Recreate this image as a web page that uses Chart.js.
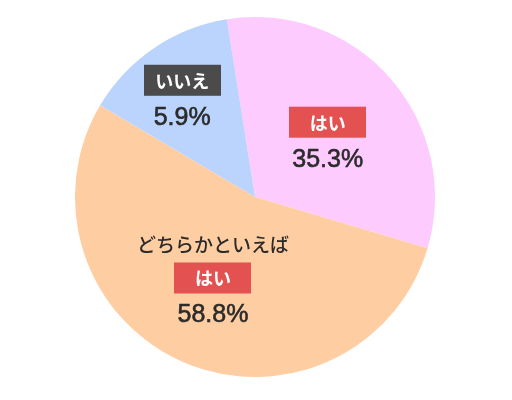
<!DOCTYPE html>
<html>
<head>
<meta charset="utf-8">
<script src="https://cdn.jsdelivr.net/npm/chart.js@4.4.0/dist/chart.umd.min.js"></script>
<style>
  body { margin: 0; background: #fff; }
  #wrap { width: 512px; height: 400px; }
</style>
</head>
<body>
<div id="wrap"><canvas id="answerPie"></canvas></div>
<script>
// slices in drawing order (clockwise from top): はい, どちらかといえば はい, いいえ
var categories = ['はい', 'どちらかといえば はい', 'いいえ'];
// slice sizes as drawn in the picture (share of the circle)
var sliceValues = [32.1, 53.9, 14.0];
// percent texts printed on the chart
var percentLabels = ['35.3%', '58.8%', '5.9%'];
var headLabels = ['', 'どちらかといえば', ''];
var badgeLabels = ['はい', 'はい', 'いいえ'];

var sliceColors = ['#fdcbfe', '#fecda1', '#bbd4fe'];
var badgeColors = ['#e35150', '#e35150', '#4b4b4b'];
// where each label group sits: fraction of radius along the slice middle, plus a nudge
var labelFrac = [0.5, 0.5, 0.68];
var labelNudge = [5, -6, -4];

var FONT = '"Noto Sans CJK JP", "Noto Sans", sans-serif';
var NUM_FONT = '"Liberation Sans", Arial, sans-serif';

var labelPlugin = {
    id: 'sliceLabels',
    afterDatasetsDraw: function(chart) {
        var ctx = chart.ctx;
        var meta = chart.getDatasetMeta(0);
        meta.data.forEach(function(arc, i) {
            var p = arc.getProps(['x', 'y', 'startAngle', 'endAngle', 'outerRadius'], true);
            var mid = (p.startAngle + p.endAngle) / 2;
            var r = p.outerRadius * labelFrac[i];
            var cx = p.x + Math.cos(mid) * r + labelNudge[i];
            var cy = p.y + Math.sin(mid) * r;

            ctx.save();
            ctx.textAlign = 'center';
            ctx.textBaseline = 'middle';

            var boxTop = cy - 31;
            var pctY = cy + 21;
            if (headLabels[i]) {
                boxTop = cy - 17;
                pctY = cy + 35;
                ctx.fillStyle = '#2b2b2b';
                ctx.font = '500 19px ' + FONT;
                ctx.fillText(headLabels[i], cx, cy - 35);
            }

            // badge
            ctx.fillStyle = badgeColors[i];
            ctx.fillRect(Math.round(cx - 38.5), boxTop, 77, 31);
            ctx.fillStyle = '#ffffff';
            ctx.font = 'bold 18px ' + FONT;
            ctx.fillText(badgeLabels[i], cx, boxTop + 16);

            // percent
            ctx.fillStyle = '#2b2b2b';
            ctx.strokeStyle = '#2b2b2b';
            ctx.lineWidth = 0.6;
            ctx.font = '25px ' + NUM_FONT;
            ctx.fillText(percentLabels[i], cx, pctY + 1);
            ctx.strokeText(percentLabels[i], cx, pctY + 1);
            ctx.restore();
        });
    }
};

var ctx = document.getElementById('answerPie');
var pieChart = new Chart(ctx, {
    type: 'pie',
    data: {
        labels: categories,
        datasets: [{
            data: sliceValues,
            backgroundColor: sliceColors,
            borderWidth: 0
        }]
    },
    options: {
        responsive: true,
        maintainAspectRatio: false,
        animation: false,
        rotation: -9,
        layout: { padding: { top: 17, bottom: 23, left: 75, right: 77 } },
        plugins: {
            legend: { display: false },
            tooltip: { enabled: false }
        }
    },
    plugins: [labelPlugin]
});
</script>
</body>
</html>
